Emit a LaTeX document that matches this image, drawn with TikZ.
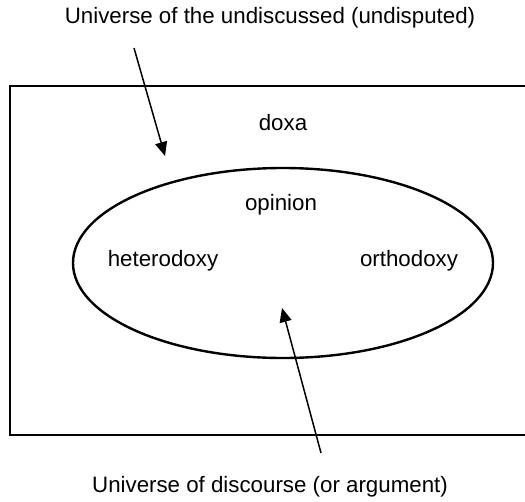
\documentclass[tikz,border=0pt]{standalone}
\usepackage{fontspec}
\setmainfont{Liberation Sans}
\usetikzlibrary{arrows.meta,shapes.geometric}
\begin{document}
\begin{tikzpicture}[x=1pt,y=-1pt,
  lbl/.style={inner sep=0pt,font=\fontsize{22.3}{26}\selectfont},
  thick line/.style={line width=2.4pt},
  pointer/.style={line width=1.5pt,-{Triangle[length=14pt,width=12pt]}}]
\useasboundingbox (0,0) rectangle (525,501);
\clip (0,0) rectangle (525,501);
\fill[white] (0,0) rectangle (525,501);
\draw[thick line] (10,86) rectangle (540,435);
\node[draw,thick line,ellipse,minimum width=420pt,minimum height=190pt,inner sep=0pt] (disc) at (283,263) {};
\node[lbl] (top) at (270,18) {Universe of the undiscussed (undisputed)};
\node[lbl] (bottom) at (270,487) {Universe of discourse (or argument)};
\node[lbl] (doxa) at (283,123) {doxa};
\node[lbl] (opinion) at (281,205) {opinion};
\node[lbl] (hetero) at (163,261) {heterodoxy};
\node[lbl] (ortho) at (409,261) {orthodoxy};
\coordinate (t1) at (134,48);
\coordinate (t2) at (165,156);
\coordinate (b1) at (321,453);
\coordinate (b2) at (282,308);
\draw[pointer] (t1) -- (t2);
\draw[pointer] (b1) -- (b2);
\end{tikzpicture}
\end{document}
